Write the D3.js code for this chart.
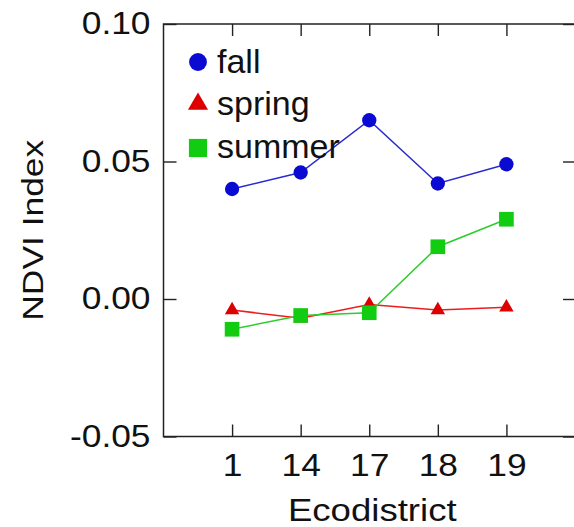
<!DOCTYPE html>
<html>
<head>
<meta charset="utf-8">
<script src="https://cdn.jsdelivr.net/npm/d3@7"></script>
<style>
  html, body { margin: 0; padding: 0; background: #fff; }
  svg { display: block; font-family: "Liberation Sans", Arial, sans-serif; }
</style>
</head>
<body>
<svg id="chart" width="574" height="527"></svg>
<script>
// Ecodistricts along the x axis
const ecodistricts = ["1", "14", "17", "18", "19"];
// Seasonal NDVI change per ecodistrict
const fall   = [0.040, 0.046, 0.065, 0.042, 0.049];
const spring = [-0.004, -0.007, -0.002, -0.004, -0.003];
const summer = [-0.011, -0.006, -0.005, 0.019, 0.029];
const yTicks = [-0.05, 0.00, 0.05, 0.10];

const series = [
  { name: "fall",   values: fall,   shape: d3.symbolCircle,   fill: "#0a0ad2", line: "#2a2ad0" },
  { name: "spring", values: spring, shape: d3.symbolTriangle, fill: "#dd0000", line: "#ee1c1c" },
  { name: "summer", values: summer, shape: d3.symbolSquare,   fill: "#11cc11", line: "#2ecc2e" }
];

const svg = d3.select("#chart");
const m = { left: 163.5, right: 575, top: 24, bottom: 436.5 };
const stretch = 1.14;  // wide lettering for axis text

const x = d3.scalePoint().domain(ecodistricts).range([m.left, m.right]).padding(1);
const y = d3.scaleLinear().domain([-0.05, 0.10]).range([m.bottom, m.top]);

const fmt = d => d.toFixed(2);

// Axes with inward ticks on all four sides
const gLeft = svg.append("g").attr("transform", `translate(${m.left},0)`)
  .call(d3.axisLeft(y).tickValues(yTicks).tickFormat(fmt).tickSizeInner(-13).tickSizeOuter(0).tickPadding(13));
const gBottom = svg.append("g").attr("transform", `translate(0,${m.bottom})`)
  .call(d3.axisBottom(x).tickSizeInner(-12).tickSizeOuter(0).tickPadding(17));
svg.append("g").attr("transform", `translate(0,${m.top})`)
  .call(d3.axisTop(x).tickSizeInner(-12).tickSizeOuter(0).tickFormat(""));
svg.append("g").attr("transform", `translate(${m.right},0)`)
  .call(d3.axisRight(y).tickValues(yTicks).tickSizeInner(-12).tickSizeOuter(0).tickFormat(""));

svg.selectAll(".domain").remove();
svg.selectAll(".tick line").attr("stroke", "#222").attr("stroke-width", 1.4);

gLeft.selectAll("text")
  .attr("font-size", 31).attr("fill", "#111")
  .attr("x", -13 / stretch)
  .attr("transform", `scale(${stretch},1)`);
gBottom.selectAll("text")
  .attr("font-size", 31).attr("fill", "#111")
  .attr("transform", `scale(${stretch},1)`);

// Plot frame
svg.append("rect")
  .attr("x", m.left).attr("y", m.top)
  .attr("width", m.right - m.left).attr("height", m.bottom - m.top)
  .attr("fill", "none").attr("stroke", "#222").attr("stroke-width", 1.5);

// Axis titles
svg.append("text")
  .attr("transform", `translate(${(m.left + m.right) / 2 + 3},521) scale(1.18,1)`)
  .attr("text-anchor", "middle").attr("font-size", 31).attr("fill", "#111")
  .text("Ecodistrict");
svg.append("text")
  .attr("transform", `translate(43,${(m.top + m.bottom) / 2}) rotate(-90) scale(1.18,1)`)
  .attr("text-anchor", "middle").attr("font-size", 30).attr("fill", "#111")
  .text("NDVI Index");

// Series lines and markers
const line = d3.line().x((d, i) => x(ecodistricts[i])).y(d => y(d));
const dataSize = { circle: 160, triangle: 90, square: 215 };
series.forEach(s => {
  const g = svg.append("g");
  g.append("path").datum(s.values)
    .attr("d", line).attr("fill", "none")
    .attr("stroke", s.line).attr("stroke-width", 1.5);
  const size = s.shape === d3.symbolCircle ? dataSize.circle
             : s.shape === d3.symbolTriangle ? dataSize.triangle : dataSize.square;
  g.selectAll("path.pt").data(s.values).join("path")
    .attr("class", "pt")
    .attr("transform", (d, i) => `translate(${x(ecodistricts[i])},${y(d)})`)
    .attr("d", d3.symbol().type(s.shape).size(size))
    .attr("fill", s.fill);
});

// Legend
const legendSize = { circle: 250, triangle: 175, square: 330 };
const legendRows = [62, 104, 148];
const legendBase = [73, 115, 158];
series.forEach((s, i) => {
  const size = s.shape === d3.symbolCircle ? legendSize.circle
             : s.shape === d3.symbolTriangle ? legendSize.triangle : legendSize.square;
  svg.append("path")
    .attr("transform", `translate(198,${legendRows[i]})`)
    .attr("d", d3.symbol().type(s.shape).size(size))
    .attr("fill", s.fill);
  svg.append("text")
    .attr("x", 217).attr("y", legendBase[i])
    .attr("font-size", 34).attr("fill", "#111")
    .text(s.name);
});
</script>
</body>
</html>
